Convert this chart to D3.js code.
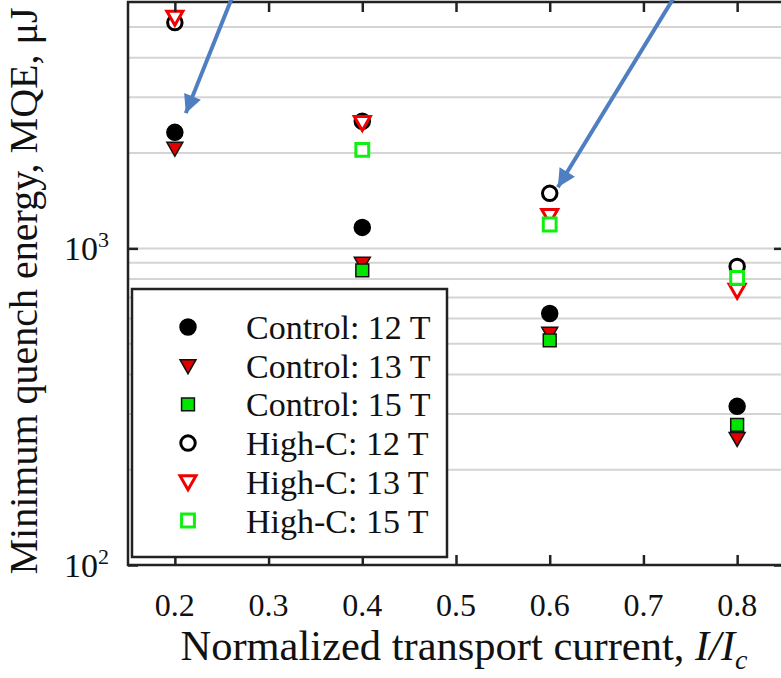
<!DOCTYPE html>
<html>
<head>
<meta charset="utf-8">
<script src="https://cdn.jsdelivr.net/npm/d3@7"></script>
<style>
  body { margin: 0; background: #fff; }
</style>
</head>
<body>
<script>
/* data (MQE in uJ) */
const currents = [0.2, 0.4, 0.6, 0.8];
const control12 = [2325, 1165, 623, 317];
const control13 = [2070, 897, 539, 251];
const control15 = [null, 852, 512, 277];
const highC12 = [5165, 2520, 1492, 877];
const highC13 = [5370, 2500, 1271, 737];
const highC15 = [null, 2046, 1190, 807];

const seriesNames = ["Control: 12 T", "Control: 13 T", "Control: 15 T",
                     "High-C: 12 T", "High-C: 13 T", "High-C: 15 T"];
const xTicks = [0.2, 0.3, 0.4, 0.5, 0.6, 0.7, 0.8];
const yTicks = [100, 1000];
const gridValues = [200, 300, 400, 500, 600, 700, 800, 900, 1000, 2000, 3000, 4000, 5000];

/* blue annotation arrows, in data units: [x, y] */
const arrowTails = [[0.262, 6300], [0.734, 6300]];
const arrowTips = [[0.2117, 2674], [0.6087, 1559]];

let width = 781;
let height = 678;
let plotLeft = 128, plotRight = 784, plotTop = 2, plotBottom = 565;
let serif = "'Liberation Serif'";

let svg = d3.select("body").append("svg")
  .attr("width", width)
  .attr("height", height);

let x = d3.scaleLinear().domain([0.15, 0.85]).range([plotLeft, plotRight]);
let y = d3.scaleLog().domain([100, 6000]).range([plotBottom, plotTop]);

/* grid */
svg.append("g").selectAll("line")
  .data(gridValues)
  .join("line")
  .attr("x1", plotLeft).attr("x2", plotRight)
  .attr("y1", d => y(d)).attr("y2", d => y(d))
  .attr("stroke", "#d4d4d4")
  .attr("stroke-width", 2);

/* series styles */
let series = [
  { name: seriesNames[0], values: control12, shape: "circle", fill: "#000", stroke: "#000" },
  { name: seriesNames[1], values: control13, shape: "triangle", fill: "#e00000", stroke: "#111" },
  { name: seriesNames[2], values: control15, shape: "square", fill: "#00e600", stroke: "#111" },
  { name: seriesNames[3], values: highC12, shape: "ring", fill: "#fff", stroke: "#000" },
  { name: seriesNames[4], values: highC13, shape: "triangle", fill: "#fff", stroke: "#f00000" },
  { name: seriesNames[5], values: highC15, shape: "square", fill: "#fff", stroke: "#10f010" }
];

function shapePath(shape) {
  if (shape == "circle") return d3.symbol(d3.symbolCircle, 201)();
  if (shape == "ring") return d3.symbol(d3.symbolCircle, 165)();
  if (shape == "square") return d3.symbol(d3.symbolSquare, 165)();
  // downward triangle
  return "M-8,-6L8,-6L0,8Z";
}

/* points */
series.forEach(s => {
  let pts = currents.map((c, i) => [c, s.values[i]]).filter(p => p[1] != null);
  svg.append("g").selectAll("path")
    .data(pts)
    .join("path")
    .attr("d", shapePath(s.shape))
    .attr("transform", d => "translate(" + x(d[0]) + "," + y(d[1]) + ")")
    .attr("fill", s.fill)
    .attr("stroke", s.stroke)
    .attr("stroke-width", s.fill == "#fff" ? 3 : 1.5);
});

/* axes: ticks inward on all sides */
let axisB = d3.axisBottom(x).tickValues(xTicks).tickSize(-10).tickFormat("");
let axisT = d3.axisTop(x).tickValues(xTicks).tickSize(-10).tickFormat("");
let axisL = d3.axisLeft(y).tickValues(yTicks).tickSize(-10).tickFormat("");
let axisR = d3.axisRight(y).tickValues(yTicks).tickSize(-10).tickFormat("");

[[axisB, 0, plotBottom], [axisT, 0, plotTop], [axisL, plotLeft, 0], [axisR, plotRight, 0]]
  .forEach(a => {
    let g = svg.append("g")
      .attr("transform", "translate(" + a[1] + "," + a[2] + ")")
      .call(a[0]);
    g.select(".domain").remove();
    g.selectAll("line").attr("stroke", "#222").attr("stroke-width", 2.5);
  });

/* frame */
svg.append("rect")
  .attr("x", plotLeft).attr("y", plotTop)
  .attr("width", plotRight - plotLeft).attr("height", plotBottom - plotTop)
  .attr("fill", "none")
  .attr("stroke", "#222")
  .attr("stroke-width", 2.5);

/* tick labels */
svg.append("g").selectAll("text")
  .data(xTicks)
  .join("text")
  .attr("x", d => x(d))
  .attr("y", 616)
  .attr("text-anchor", "middle")
  .attr("font-size", 32)
  .attr("fill", "#111")
  .style("font-family", serif)
  .text(d => d.toFixed(1));

let yl = svg.append("g").selectAll("text")
  .data(yTicks)
  .join("text")
  .attr("x", 109)
  .attr("y", d => y(d) + 12)
  .attr("text-anchor", "end")
  .attr("font-size", 34)
  .attr("fill", "#111")
  .style("font-family", serif);
yl.append("tspan").text("10");
yl.append("tspan").attr("dy", -13).attr("font-size", 22).text(d => Math.round(Math.log10(d)));

/* axis titles */
let xt = svg.append("text")
  .attr("x", 464)
  .attr("y", 660)
  .attr("text-anchor", "middle")
  .attr("font-size", 42.5)
  .attr("fill", "#111")
  .style("font-family", serif);
xt.append("tspan").text("Normalized transport current, ");
xt.append("tspan").attr("font-style", "italic").text("I/I");
xt.append("tspan").attr("font-style", "italic").attr("font-size", 28).attr("dy", 9).text("c");

svg.append("text")
  .attr("transform", "translate(37,291) rotate(-90)")
  .attr("text-anchor", "middle")
  .attr("font-size", 40)
  .attr("fill", "#111")
  .style("font-family", serif)
  .text("Minimum quench energy, MQE, \u03bcJ");

/* legend */
let legend = svg.append("g");
legend.append("rect")
  .attr("x", 132).attr("y", 289)
  .attr("width", 315).attr("height", 268)
  .attr("fill", "#fff")
  .attr("stroke", "#222")
  .attr("stroke-width", 2.5);

let rows = legend.selectAll("g.row")
  .data(series)
  .join("g")
  .attr("class", "row")
  .attr("transform", (d, i) => "translate(0," + (327 + i * 38.7) + ")");

rows.append("path")
  .attr("d", d => shapePath(d.shape))
  .attr("transform", "translate(188,0)")
  .attr("fill", d => d.fill)
  .attr("stroke", d => d.stroke)
  .attr("stroke-width", d => d.fill == "#fff" ? 3 : 1.5);

rows.append("text")
  .attr("x", 246)
  .attr("y", 12)
  .attr("font-size", 34)
  .attr("fill", "#111")
  .style("font-family", serif)
  .text(d => d.name);

/* arrows */
svg.append("defs").append("marker")
  .attr("id", "head")
  .attr("viewBox", "0 0 10 10")
  .attr("refX", 10).attr("refY", 5)
  .attr("markerWidth", 5).attr("markerHeight", 4.5)
  .attr("markerUnits", "strokeWidth")
  .attr("orient", "auto")
  .append("path")
  .attr("d", "M0,0L10,5L0,10Z")
  .attr("fill", "#4f7fc1");

svg.append("g").selectAll("line")
  .data(arrowTips)
  .join("line")
  .attr("x1", (d, i) => x(arrowTails[i][0]))
  .attr("y1", (d, i) => y(arrowTails[i][1]))
  .attr("x2", d => x(d[0]))
  .attr("y2", d => y(d[1]))
  .attr("stroke", "#4f7fc1")
  .attr("stroke-width", 4)
  .attr("marker-end", "url(#head)");
</script>
</body>
</html>
